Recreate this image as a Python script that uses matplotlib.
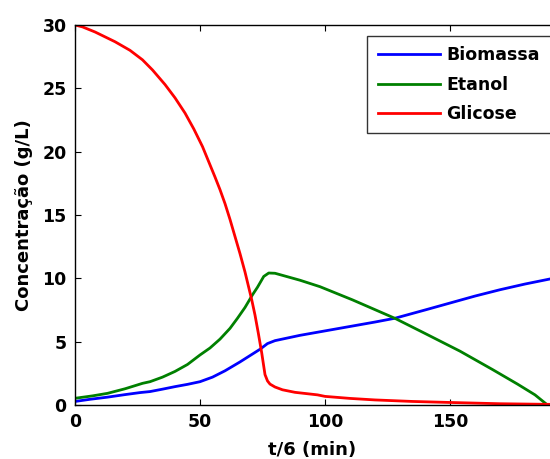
import matplotlib
matplotlib.use('Agg')
import matplotlib.pyplot as plt

# valores (t/6 em min, concentracao em g/L)
t_bio = [0, 6, 13, 20, 26, 30, 35, 40, 45, 50, 55, 60, 63, 66, 70, 74, 77, 80, 90, 100, 110,
         120, 128, 140, 150, 160, 170, 180, 190]
biomassa = [0.28, 0.45, 0.62, 0.82, 0.98, 1.06, 1.25, 1.45, 1.63, 1.84, 2.2, 2.7, 3.05, 3.4, 3.9,
            4.4, 4.85, 5.08, 5.5, 5.85, 6.2, 6.55, 6.85, 7.5, 8.05, 8.6, 9.1, 9.55, 9.95]

t_eta = [0, 7, 13, 20, 27, 30, 35, 40, 45, 50, 54, 58, 62, 65, 68, 71, 73, 75.5, 77.5, 80, 90,
         98, 111, 128, 140, 154, 167, 177, 184, 189]
etanol = [0.53, 0.72, 0.92, 1.28, 1.71, 1.84, 2.2, 2.65, 3.2, 3.95, 4.5, 5.2, 6.05, 6.85, 7.7,
          8.7, 9.3, 10.15, 10.42, 10.4, 9.85, 9.34, 8.3, 6.84, 5.65, 4.25, 2.8, 1.65, 0.8, 0.0]

t_gli = [0, 3, 8, 16, 22, 27, 31, 36, 40, 44, 47.5, 51, 53.5, 56, 58, 60, 62, 64, 66, 68, 70.7,
         72, 73.3, 74.7, 76, 77, 78, 80, 83, 88, 97, 100, 110, 120, 135, 150, 170, 190]
glicose = [30.0, 29.85, 29.45, 28.68, 28.0, 27.25, 26.45, 25.3, 24.25, 23.05, 21.8, 20.4, 19.2,
           18.0, 17.0, 15.9, 14.65, 13.3, 11.95, 10.5, 8.3, 7.1, 5.7, 4.1, 2.4, 1.9, 1.65, 1.42,
           1.2, 1.0, 0.8, 0.68, 0.52, 0.4, 0.28, 0.2, 0.1, 0.05]

fig = plt.figure(figsize=(5.5, 4.59), dpi=100)
ax = fig.add_axes([75/550, 54/459, 475/550, 380/459])

fnt = {'family': 'DejaVu Sans', 'weight': 'bold', 'size': 13}
tfnt = {'family': 'DejaVu Sans', 'weight': 'bold', 'size': 12.5}

ax.plot(t_bio, biomassa, color='#0000FF', lw=2.0, label='Biomassa')
ax.plot(t_eta, etanol, color='#008000', lw=2.0, label='Etanol')
ax.plot(t_gli, glicose, color='#FF0000', lw=2.0, label='Glicose')

ax.set_xlim(0, 190)
ax.set_ylim(0, 30)
ax.set_xticks([0, 50, 100, 150])
ax.set_yticks([0, 5, 10, 15, 20, 25, 30])
ax.tick_params(direction='in', top=True, right=False, length=4, width=0.8, pad=6)
for lab in ax.get_xticklabels() + ax.get_yticklabels():
    lab.set_fontproperties(tfnt)
ax.spines['right'].set_visible(False)
for s in ['left', 'bottom', 'top']:
    ax.spines[s].set_linewidth(1.0)

ax.set_xlabel('t/6 (min)', fontdict=fnt, labelpad=7)
ax.set_ylabel('Concentração (g/L)', fontdict=fnt, labelpad=7)

leg = ax.legend(loc='upper left', bbox_to_anchor=(0.615, 0.721, 0.40, 0.25), mode='expand',
                borderaxespad=0, prop=tfnt, fancybox=False, framealpha=1, edgecolor='#333333',
                handlelength=3.6, handletextpad=0.35, borderpad=0.6, labelspacing=0.65)
leg.get_frame().set_linewidth(1.0)

fig.savefig('out.png', dpi=100)
